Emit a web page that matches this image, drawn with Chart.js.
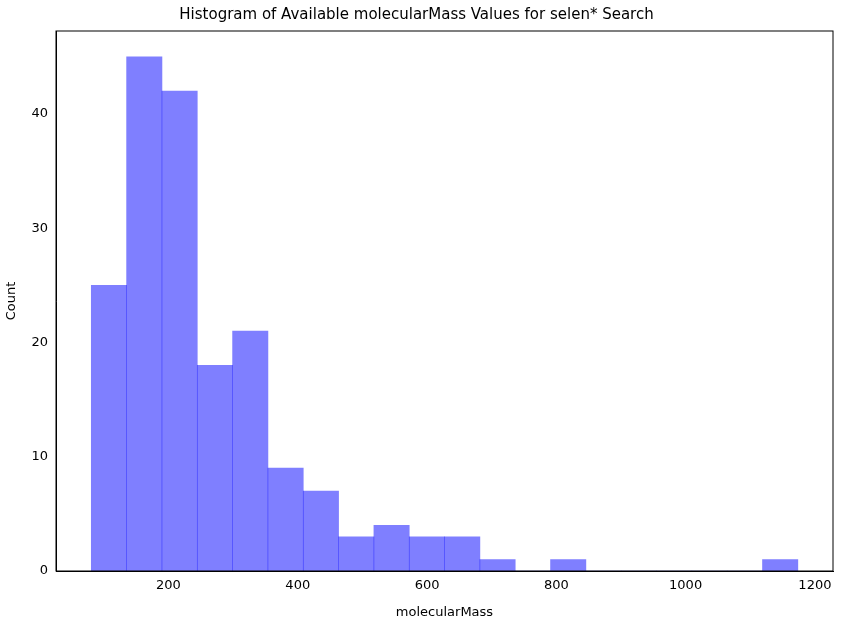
<!DOCTYPE html>
<html>
<head>
<meta charset="utf-8">
<script src="https://cdn.jsdelivr.net/npm/chart.js@4/dist/chart.umd.min.js"></script>
<style>
  html, body { margin: 0; padding: 0; background: #fff; }
  #wrap { width: 841px; height: 624px; }
</style>
</head>
<body>
<div id="wrap"><canvas id="hist"></canvas></div>
<script>
// histogram bins (molecularMass), 20 bins
const binStart = 80.6;
const binWidth = 54.65;
const counts = [25, 45, 42, 18, 21, 9, 7, 3, 4, 3, 3, 1, 0, 1, 0, 0, 0, 0, 0, 1];
const xTicks = [200, 400, 600, 800, 1000, 1200];
const yTicks = [0, 10, 20, 30, 40];

const points = counts.map((c, i) => ({ x: binStart + binWidth * (i + 0.5), y: c }));

const font = { family: "DejaVu Sans", size: 13 };

new Chart(document.getElementById("hist"), {
    type: "bar",
    data: {
        datasets: [{
            data: points,
            backgroundColor: "rgba(0,0,255,0.5)",
            borderWidth: 0,
            barPercentage: 1,
            categoryPercentage: 1
        }]
    },
    options: {
        responsive: true,
        maintainAspectRatio: false,
        animation: false,
        layout: { padding: { left: 0, right: 8, top: 0, bottom: 0 } },
        plugins: {
            legend: { display: false },
            tooltip: { enabled: false },
            title: {
                display: true,
                text: "Histogram of Available molecularMass Values for selen* Search",
                color: "#000",
                font: { family: "DejaVu Sans", size: 15, weight: "normal" },
                padding: { top: 6, bottom: 7 }
            }
        },
        scales: {
            x: {
                type: "linear",
                offset: false,
                min: 26,
                max: 1228,
                afterBuildTicks: s => { s.ticks = xTicks.map(v => ({ value: v })); },
                afterFit: s => { s.height = 53; },
                grid: { display: false, offset: false, drawTicks: true, tickLength: 5, tickColor: "#000" },
                border: { display: true, color: "#000" },
                ticks: { color: "#000", font: font, padding: 2, maxRotation: 0, callback: v => String(v) },
                title: { display: true, text: "molecularMass", color: "#000", font: font, padding: { top: 0 } }
            },
            y: {
                min: 0,
                max: 47.25,
                afterBuildTicks: s => { s.ticks = yTicks.map(v => ({ value: v })); },
                afterFit: s => { s.width = 56; },
                grid: { display: false, drawTicks: true, tickLength: 5, tickColor: "#000" },
                border: { display: true, color: "#000" },
                ticks: { color: "#000", font: font, padding: 3 },
                title: { display: true, text: "Count", color: "#000", font: font, padding: { bottom: 4 } }
            }
        }
    },
    plugins: [{
        id: "frame",
        afterDraw(chart) {
            const { ctx, chartArea: a } = chart;
            ctx.save();
            ctx.strokeStyle = "#000";
            ctx.lineWidth = 1;
            ctx.strokeRect(a.left, a.top, a.right - a.left, a.bottom - a.top);
            ctx.restore();
        }
    }]
});
</script>
</body>
</html>
